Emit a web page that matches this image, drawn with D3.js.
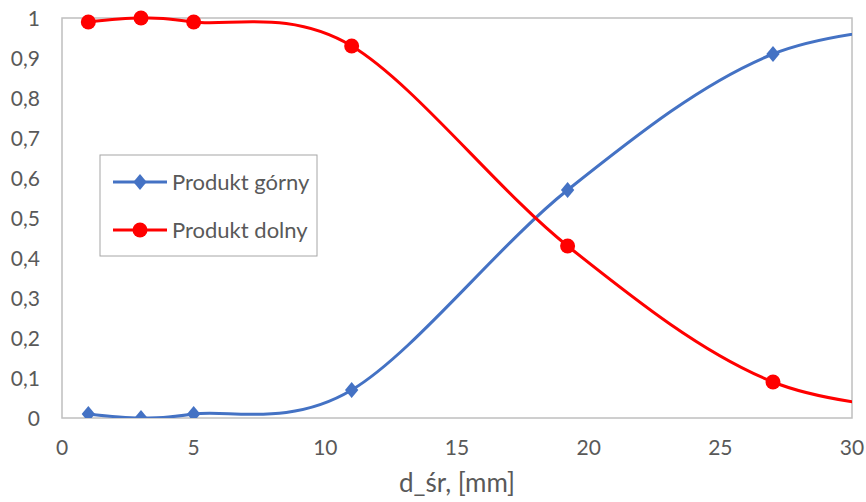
<!DOCTYPE html>
<html>
<head>
<meta charset="utf-8">
<script src="https://cdn.jsdelivr.net/npm/d3@7"></script>
<style>
  body { margin: 0; background: #fff; }
  text { font-family: Lato, "Open Sans", sans-serif; fill: #595959; }
</style>
</head>
<body>
<div id="chart"></div>
<script>
// data
const xValues = [1, 3, 5, 11, 19.2, 27, 35];
const gornyValues = [0.01, 0, 0.01, 0.07, 0.57, 0.91, 0.99];
const dolnyValues = [0.99, 1, 0.99, 0.93, 0.43, 0.09, 0.01];
const xTicks = [0, 5, 10, 15, 20, 25, 30];
const yTicks = [0, 0.1, 0.2, 0.3, 0.4, 0.5, 0.6, 0.7, 0.8, 0.9, 1];
const seriesNames = ['Produkt górny', 'Produkt dolny'];

const width = 866, height = 502;
const margin = { top: 18, right: 14, bottom: 84, left: 62 };
const innerW = width - margin.left - margin.right;
const innerH = height - margin.top - margin.bottom;

const svg = d3.select('#chart').append('svg')
  .attr('width', width)
  .attr('height', height);

const g = svg.append('g')
  .attr('transform', `translate(${margin.left},${margin.top})`);

const x = d3.scaleLinear().domain([0, 30]).range([0, innerW]);
const y = d3.scaleLinear().domain([0, 1]).range([innerH, 0]);

const fmt = d => String(d3.format('.1~f')(d)).replace('.', ',');

// y tick labels
g.selectAll('.ylab')
  .data(yTicks)
  .enter().append('text')
  .attr('x', -22)
  .attr('y', d => y(d))
  .attr('dy', '0.36em')
  .attr('text-anchor', 'end')
  .style('font-size', '21px')
  .text(fmt);

// x tick labels
g.selectAll('.xlab')
  .data(xTicks)
  .enter().append('text')
  .attr('x', d => x(d))
  .attr('y', innerH + 37)
  .attr('text-anchor', 'middle')
  .style('font-size', '21px')
  .text(d => d);

// axis title
svg.append('text')
  .attr('x', margin.left + innerW / 2)
  .attr('y', 492)
  .attr('text-anchor', 'middle')
  .style('font-size', '26px')
  .text('d_śr, [mm]');

// plot frame
g.append('rect')
  .attr('width', innerW)
  .attr('height', innerH)
  .attr('fill', 'none')
  .attr('stroke', '#bfbfbf')
  .attr('stroke-width', 1.5);

svg.append('defs').append('clipPath').attr('id', 'clip')
  .append('rect').attr('width', innerW).attr('height', innerH + 10).attr('y', -10);

const line = d3.line()
  .x(d => x(d[0]))
  .y(d => y(d[1]))
  .curve(d3.curveCatmullRom.alpha(0));

const gorny = xValues.map((v, i) => [v, gornyValues[i]]);
const dolny = xValues.map((v, i) => [v, dolnyValues[i]]);

const plot = g.append('g').attr('clip-path', 'url(#clip)');

plot.append('path').datum(gorny)
  .attr('d', line)
  .attr('fill', 'none')
  .attr('stroke', '#4472c4')
  .attr('stroke-width', 3);

plot.append('path').datum(dolny)
  .attr('d', line)
  .attr('fill', 'none')
  .attr('stroke', '#ff0000')
  .attr('stroke-width', 3);

const diamond = d3.symbol().type(d3.symbolDiamond2).size(140);

plot.selectAll('.dg')
  .data(gorny)
  .enter().append('path')
  .attr('transform', d => `translate(${x(d[0])},${y(d[1])}) scale(0.9,1.08)`)
  .attr('d', diamond)
  .attr('fill', '#4472c4');

plot.selectAll('.dd')
  .data(dolny)
  .enter().append('circle')
  .attr('cx', d => x(d[0]))
  .attr('cy', d => y(d[1]))
  .attr('r', 7.5)
  .attr('fill', '#ff0000');

// legend
const leg = svg.append('g').attr('transform', 'translate(100,155)');
leg.append('rect')
  .attr('width', 217)
  .attr('height', 101)
  .attr('fill', '#fff')
  .attr('stroke', '#a6a6a6')
  .attr('stroke-width', 1);

const legColors = ['#4472c4', '#ff0000'];
seriesNames.forEach((name, i) => {
  const row = leg.append('g').attr('transform', `translate(0,${27 + i * 48})`);
  row.append('line')
    .attr('x1', 13).attr('x2', 67)
    .attr('stroke', legColors[i])
    .attr('stroke-width', 3);
  if (i === 0) {
    row.append('path')
      .attr('transform', 'translate(40,0) scale(0.9,1.08)')
      .attr('d', diamond)
      .attr('fill', legColors[i]);
  } else {
    row.append('circle')
      .attr('cx', 40).attr('r', 7.5)
      .attr('fill', legColors[i]);
  }
  row.append('text')
    .attr('x', 72)
    .attr('dy', '0.36em')
    .style('font-size', '22px')
    .text(name);
});
</script>
</body>
</html>
